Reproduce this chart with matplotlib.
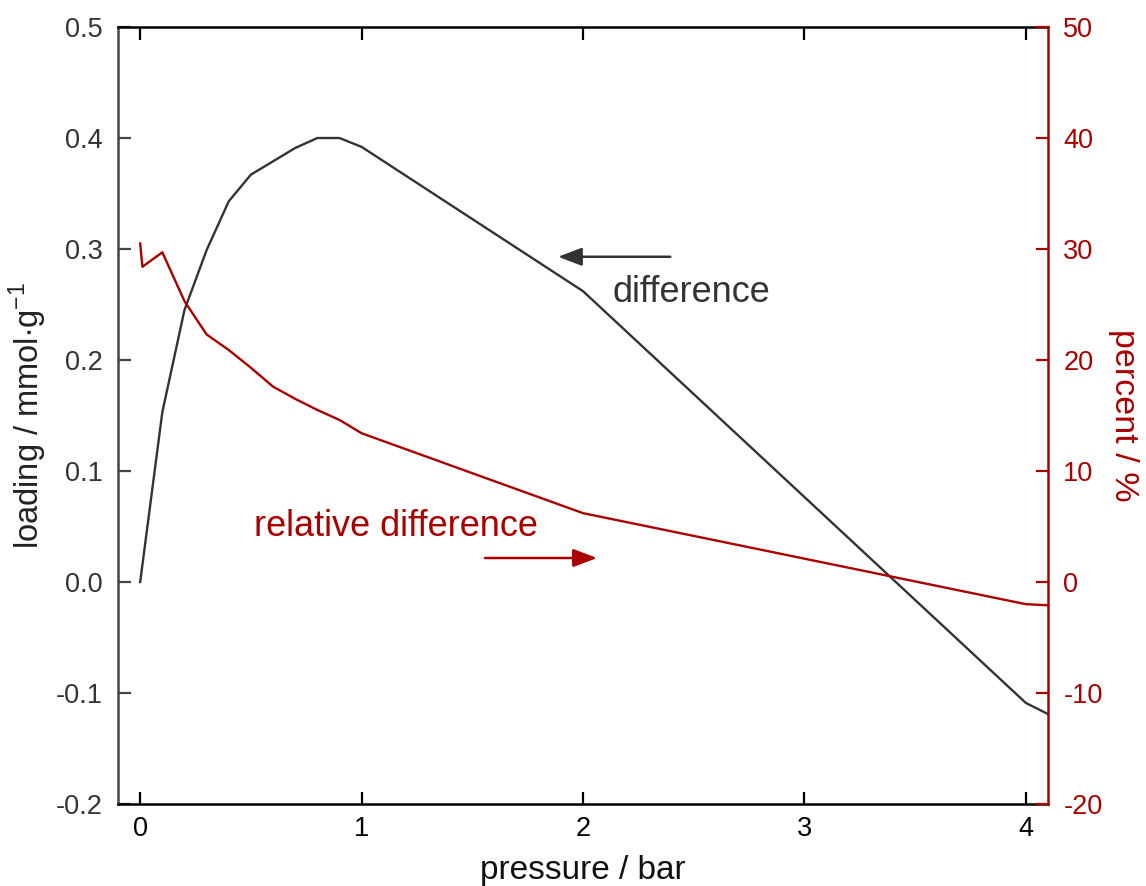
import matplotlib
matplotlib.use("Agg")
import matplotlib.pyplot as plt

plt.rcParams['font.family'] = ['Liberation Sans', 'DejaVu Sans']
plt.rcParams['mathtext.fontset'] = 'custom'
plt.rcParams['mathtext.rm'] = 'Liberation Sans'
plt.rcParams['axes.unicode_minus'] = False

# data
pressure_diff = [0.0, 0.1, 0.2, 0.3, 0.4, 0.5, 0.6, 0.7, 0.8, 0.9, 1.0, 2.0, 4.0, 4.1]
difference = [0.0, 0.153, 0.245, 0.299, 0.343, 0.367, 0.379, 0.391, 0.400, 0.400, 0.392, 0.262, -0.109, -0.119]

pressure_rel = [0.0, 0.01, 0.1, 0.2, 0.3, 0.4, 0.5, 0.6, 0.7, 0.8, 0.9, 1.0, 2.0, 4.0, 4.1]
relative = [30.5, 28.4, 29.7, 25.3, 22.3, 20.9, 19.3, 17.6, 16.5, 15.5, 14.6, 13.4, 6.2, -2.0, -2.1]

x_ticks = [0, 1, 2, 3, 4]
left_ticks = [-0.2, -0.1, 0.0, 0.1, 0.2, 0.3, 0.4, 0.5]
left_labels = ['-0.2', '-0.1', '0.0', '0.1', '0.2', '0.3', '0.4', '0.5']
right_ticks = [-20, -10, 0, 10, 20, 30, 40, 50]
right_labels = ['-20', '-10', '0', '10', '20', '30', '40', '50']

BLACK = '#333333'
RED = '#aa0000'

fig = plt.figure(figsize=(11.46, 8.86), dpi=100)
ax = fig.add_axes([0.103, 0.0926, 0.8115, 0.8769])
ax2 = ax.twinx()

ax.plot(pressure_diff, difference, color=BLACK, lw=1.7, zorder=3)
ax2.plot(pressure_rel, relative, color=RED, lw=1.7, zorder=3)

ax.set_xlim(-0.1, 4.1)
ax.set_ylim(-0.2, 0.5)
ax2.set_ylim(-20, 50)

ax.set_xticks(x_ticks)
ax.set_yticks(left_ticks)
ax.set_yticklabels(left_labels)
ax2.set_yticks(right_ticks)
ax2.set_yticklabels(right_labels)

for s in ['top', 'bottom']:
    ax.spines[s].set_color('black')
    ax.spines[s].set_linewidth(1.8)
ax.spines['left'].set_color('#444444')
ax.spines['left'].set_linewidth(1.8)
ax.spines['right'].set_visible(False)
for s in ['top', 'bottom', 'left']:
    ax2.spines[s].set_visible(False)
ax2.spines['right'].set_color(RED)
ax2.spines['right'].set_linewidth(1.8)

ax.tick_params(axis='x', which='both', direction='in', top=True, bottom=True,
               length=9, width=1.6, color='black', labelsize=19.5, labelcolor='black', pad=9)
ax.tick_params(axis='y', which='both', direction='in', left=True, right=False,
               length=9, width=1.6, color='#444444', labelsize=19.5, labelcolor='#333333', pad=11)
ax2.tick_params(axis='y', which='both', direction='in', right=True, left=False,
                length=9, width=1.6, color=RED, labelsize=19.5, labelcolor=RED, pad=11)

ax.set_xlabel('pressure / bar', fontsize=24, color='#111111', labelpad=9)
ax.set_ylabel('loading / mmol$\\cdot$g$^{\\mathregular{-1}}$', fontsize=23.5, color='#222222', labelpad=5)
ax2.set_ylabel('percent / %', fontsize=24.5, color=RED, rotation=270, labelpad=26)

ax.annotate('', xy=(1.887, 0.293), xytext=(2.394, 0.293),
            arrowprops=dict(arrowstyle='-|>,head_length=1.45,head_width=0.55',
                            color=BLACK, lw=1.8, shrinkA=0, shrinkB=0))
ax.text(2.489, 0.252, 'difference', fontsize=26, color=BLACK, ha='center', va='baseline')

ax.annotate('', xy=(2.063, 0.0216), xytext=(1.557, 0.0216),
            arrowprops=dict(arrowstyle='-|>,head_length=1.45,head_width=0.55',
                            color=RED, lw=1.8, shrinkA=0, shrinkB=0))
ax.text(0.516, 0.0414, 'relative difference', fontsize=26, color=RED, ha='left', va='baseline')

fig.savefig('out.png', dpi=100)
